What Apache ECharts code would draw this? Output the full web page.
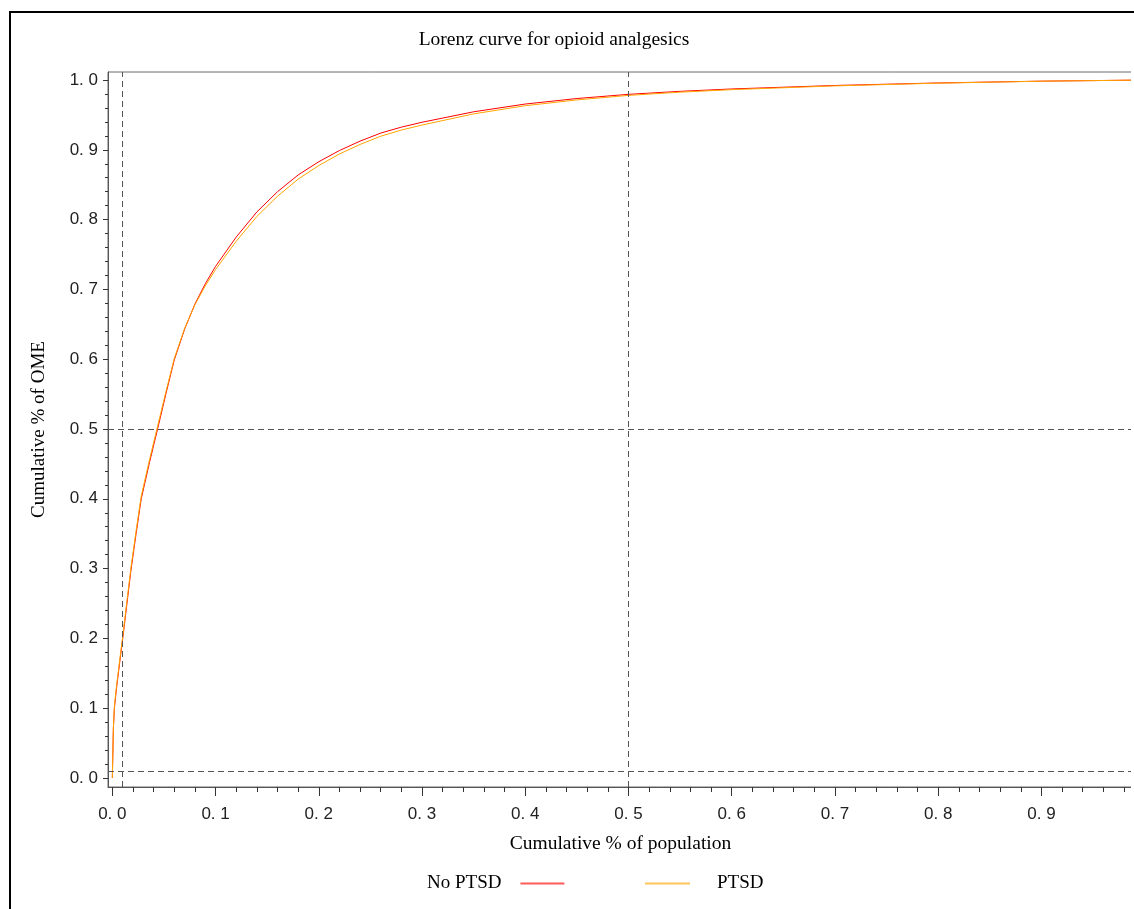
<!DOCTYPE html>
<html><head><meta charset="utf-8">
<script src="https://cdn.jsdelivr.net/npm/echarts@6/dist/echarts.min.js"></script>
<style>
html,body{margin:0;padding:0;background:#fff;overflow:hidden;width:1134px;height:909px;}
#frame{position:absolute;left:9px;top:11px;width:2000px;height:2000px;border-left:2px solid #000;border-top:2px solid #000;box-sizing:border-box;}
#clip{position:absolute;left:0;top:0;width:1131px;height:909px;overflow:hidden;}
#chart{position:absolute;left:0;top:0;width:1200px;height:909px;}
</style></head><body>
<div id="frame"></div>
<div id="clip"><div id="chart"></div></div>
<script>
// ---- data ----
const chartTitle = 'Lorenz curve for opioid analgesics';
const xAxisName = 'Cumulative % of population';
const yAxisName = 'Cumulative % of OME';
const seriesNames = ['No PTSD', 'PTSD'];

// cumulative share of population (x)
const popShare = [0, 0.001, 0.002, 0.004, 0.006, 0.008, 0.010, 0.014, 0.018, 0.023, 0.028, 0.036, 0.044, 0.052, 0.060, 0.070, 0.080, 0.090, 0.100, 0.120, 0.140, 0.160, 0.180, 0.200, 0.220, 0.240, 0.260, 0.280, 0.300, 0.350, 0.400, 0.450, 0.500, 0.550, 0.600, 0.700, 0.800, 0.900, 1.000];
// cumulative share of OME, No PTSD
const omeNoPTSD = [0, 0.070, 0.100, 0.128, 0.152, 0.176, 0.199, 0.248, 0.297, 0.350, 0.400, 0.452, 0.501, 0.551, 0.599, 0.643, 0.679, 0.708, 0.733, 0.775, 0.811, 0.840, 0.864, 0.883, 0.899, 0.9125, 0.924, 0.9325, 0.9395, 0.9545, 0.9656, 0.9735, 0.9795, 0.9838, 0.9872, 0.9922, 0.9958, 0.9984, 1.0];
// cumulative share of OME, PTSD
const omePTSD = [0, 0.072, 0.103, 0.131, 0.155, 0.179, 0.202, 0.252, 0.301, 0.354, 0.404, 0.456, 0.505, 0.554, 0.601, 0.644, 0.678, 0.705, 0.7285, 0.769, 0.8045, 0.8335, 0.858, 0.8775, 0.894, 0.9077, 0.9195, 0.9283, 0.9355, 0.9515, 0.9632, 0.9715, 0.978, 0.9826, 0.9862, 0.9916, 0.9955, 0.9983, 1.0];

// tick values (labels shown as "0. 0" ... "1. 0")
const xTicks = [0, 0.1, 0.2, 0.3, 0.4, 0.5, 0.6, 0.7, 0.8, 0.9, 1.0];
const yTicks = [0, 0.1, 0.2, 0.3, 0.4, 0.5, 0.6, 0.7, 0.8, 0.9, 1.0];
// dashed reference lines
const refLinesX = [0.01, 0.5];
const refLinesY = [0.01, 0.5];
// axis ranges
const xRange = [-0.0042, 1.0042];
const yRange = [-0.0129, 1.0115];

// ---- helpers ----
function minorOf(ticks) {
  const out = [];
  for (let i = 0; i < ticks.length - 1; i++) {
    for (let k = 1; k < 5; k++) out.push(+(ticks[i] + (ticks[i + 1] - ticks[i]) * k / 5).toFixed(4));
  }
  return out;
}
const fmt = v => Number(v).toFixed(1).replace('.', '. ');
const SANS = '"Liberation Sans", Arial, Helvetica, sans-serif';
const SERIF = '"Liberation Serif", "Times New Roman", Times, serif';
const TICK = '#333';

const chart = echarts.init(document.getElementById('chart'), null, {renderer: 'canvas'});
const option = {
  animation: false,
  backgroundColor: 'transparent',
  title: {
    text: chartTitle, left: 554, top: 30, textAlign: 'center', padding: 0,
    textStyle: {fontFamily: SERIF, fontSize: 19.5, fontWeight: 'normal', color: '#000'}
  },
  legend: [
    {
      data: [{name: seriesNames[0], icon: 'rect'}], align: 'right', left: 427, top: 874, padding: 0,
      itemWidth: 44, itemHeight: 2, itemStyle: {opacity: 0.65},
      textStyle: {fontFamily: SERIF, fontSize: 19, color: '#000', padding: [0, 14, 0, 0]}
    },
    {
      data: [{name: seriesNames[1], icon: 'rect'}], align: 'left', left: 645, top: 874, padding: 0,
      itemWidth: 45, itemHeight: 2, itemStyle: {opacity: 0.65},
      textStyle: {fontFamily: SERIF, fontSize: 19, color: '#000', padding: [0, 0, 0, 22]}
    }
  ],
  grid: {left: 108, top: 72, width: 1041, height: 715, show: true, borderColor: '#6a6a6a', borderWidth: 1, backgroundColor: 'transparent'},
  xAxis: [
    {
      type: 'value', min: xRange[0], max: xRange[1], position: 'bottom',
      axisLine: {show: true, onZero: false, lineStyle: {color: '#555', width: 1}},
      axisTick: {show: true, inside: false, length: 9, customValues: xTicks, lineStyle: {color: TICK}},
      axisLabel: {customValues: xTicks, formatter: fmt, margin: 19, fontSize: 17, color: '#222', fontFamily: SANS},
      splitLine: {show: false},
      name: xAxisName, nameLocation: 'middle', nameGap: 47,
      nameTextStyle: {fontFamily: SERIF, fontSize: 19.5, color: '#000', padding: [0, 16, 0, 0]}
    },
    {
      type: 'value', min: xRange[0], max: xRange[1], position: 'bottom',
      axisLine: {show: false, onZero: false},
      axisTick: {show: true, inside: false, length: 5, customValues: minorOf(xTicks), lineStyle: {color: TICK}},
      axisLabel: {show: false}, splitLine: {show: false}
    }
  ],
  yAxis: [
    {
      type: 'value', min: yRange[0], max: yRange[1], position: 'left',
      axisLine: {show: true, onZero: false, lineStyle: {color: '#555', width: 1}},
      axisTick: {show: true, inside: false, length: 5, customValues: yTicks, lineStyle: {color: TICK}},
      axisLabel: {customValues: yTicks, formatter: fmt, margin: 10, fontSize: 17, color: '#222', fontFamily: SANS},
      splitLine: {show: false},
      name: yAxisName, nameLocation: 'middle', nameGap: 59,
      nameTextStyle: {fontFamily: SERIF, fontSize: 19, color: '#000'}
    },
    {
      type: 'value', min: yRange[0], max: yRange[1], position: 'left',
      axisLine: {show: false, onZero: false},
      axisTick: {show: true, inside: false, length: 3, customValues: minorOf(yTicks), lineStyle: {color: TICK}},
      axisLabel: {show: false}, splitLine: {show: false}
    }
  ],
  series: [
    {
      name: seriesNames[0], type: 'line', xAxisIndex: 0, yAxisIndex: 0,
      data: popShare.map((x, i) => [x, omeNoPTSD[i]]),
      symbol: 'none', showSymbol: false,
      lineStyle: {width: 1, color: '#ff0000'}, itemStyle: {color: '#ff0000'},
      emphasis: {disabled: true},
      markLine: {
        silent: true, symbol: ['none', 'none'], label: {show: false},
        lineStyle: {color: '#555', width: 1, type: [6, 4]},
        emphasis: {disabled: true},
        data: refLinesX.map(v => ({xAxis: v})).concat(refLinesY.map(v => ({yAxis: v})))
      }
    },
    {
      name: seriesNames[1], type: 'line', xAxisIndex: 0, yAxisIndex: 0,
      data: popShare.map((x, i) => [x, omePTSD[i]]),
      symbol: 'none', showSymbol: false,
      lineStyle: {width: 1, color: '#ffa500'}, itemStyle: {color: '#ffa500'},
      emphasis: {disabled: true}
    }
  ]
};
chart.setOption(option);
</script></body></html>
